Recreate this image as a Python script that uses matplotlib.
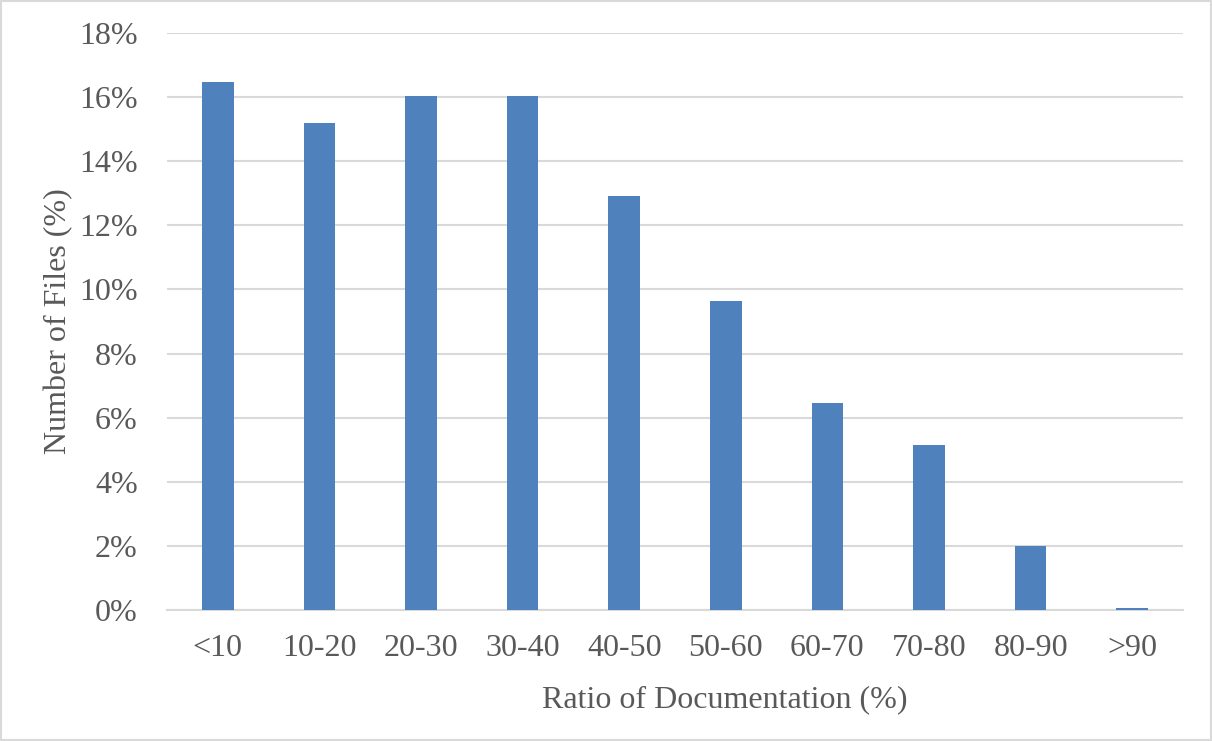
import numpy as np
import matplotlib
matplotlib.use("Agg")
from matplotlib import pyplot as plt
from matplotlib.ticker import PercentFormatter

categories = ["<10", "10-20", "20-30", "30-40", "40-50", "50-60", "60-70", "70-80", "80-90", ">90"]
share = [16.46, 15.20, 16.03, 16.03, 12.92, 9.64, 6.46, 5.16, 2.00, 0.05]

plt.rcParams['font.family'] = ['Liberation Serif', 'DejaVu Serif']
txt = '#595959'
grid = '#D9D9D9'

fig = plt.figure(figsize=(12.12, 7.41), dpi=100)
ax = fig.add_axes([167/1212, 1 - 610/741, (1183-167)/1212, (610-33)/741])

x = np.arange(len(categories))
ax.bar(x, share, width=0.31, color='#4F81BD', zorder=3)

ax.set_xlim(-0.5, len(categories) - 0.5)
ax.set_ylim(0, 18)
ax.set_yticks(np.arange(0, 19, 2))
ax.yaxis.set_major_formatter(PercentFormatter(decimals=0))
ax.set_xticks(x)
ax.set_xticklabels(categories)
ax.grid(axis='y', color=grid, linewidth=1.5, zorder=0)
for s in ['top', 'right', 'left']:
    ax.spines[s].set_visible(False)
ax.spines['bottom'].set_color(grid)
ax.spines['bottom'].set_linewidth(1.5)
ax.tick_params(length=0, labelsize=23, colors=txt)
ax.tick_params(axis='x', pad=17)
ax.tick_params(axis='y', pad=21)

ax.set_xlabel('Ratio of Documentation (%)', fontsize=23, color=txt, labelpad=16)
ax.xaxis.label.set_x(0.549)  # label sits a bit right of centre in the original
ax.set_ylabel('Number of Files (%)', fontsize=23, color=txt, labelpad=4)

# thin border around the chart area
fig.patches.append(plt.Rectangle((0.001, 0.001), 0.998, 0.998, transform=fig.transFigure,
                                 fill=False, edgecolor=grid, linewidth=1.5))

fig.savefig('out.png', dpi=100)
